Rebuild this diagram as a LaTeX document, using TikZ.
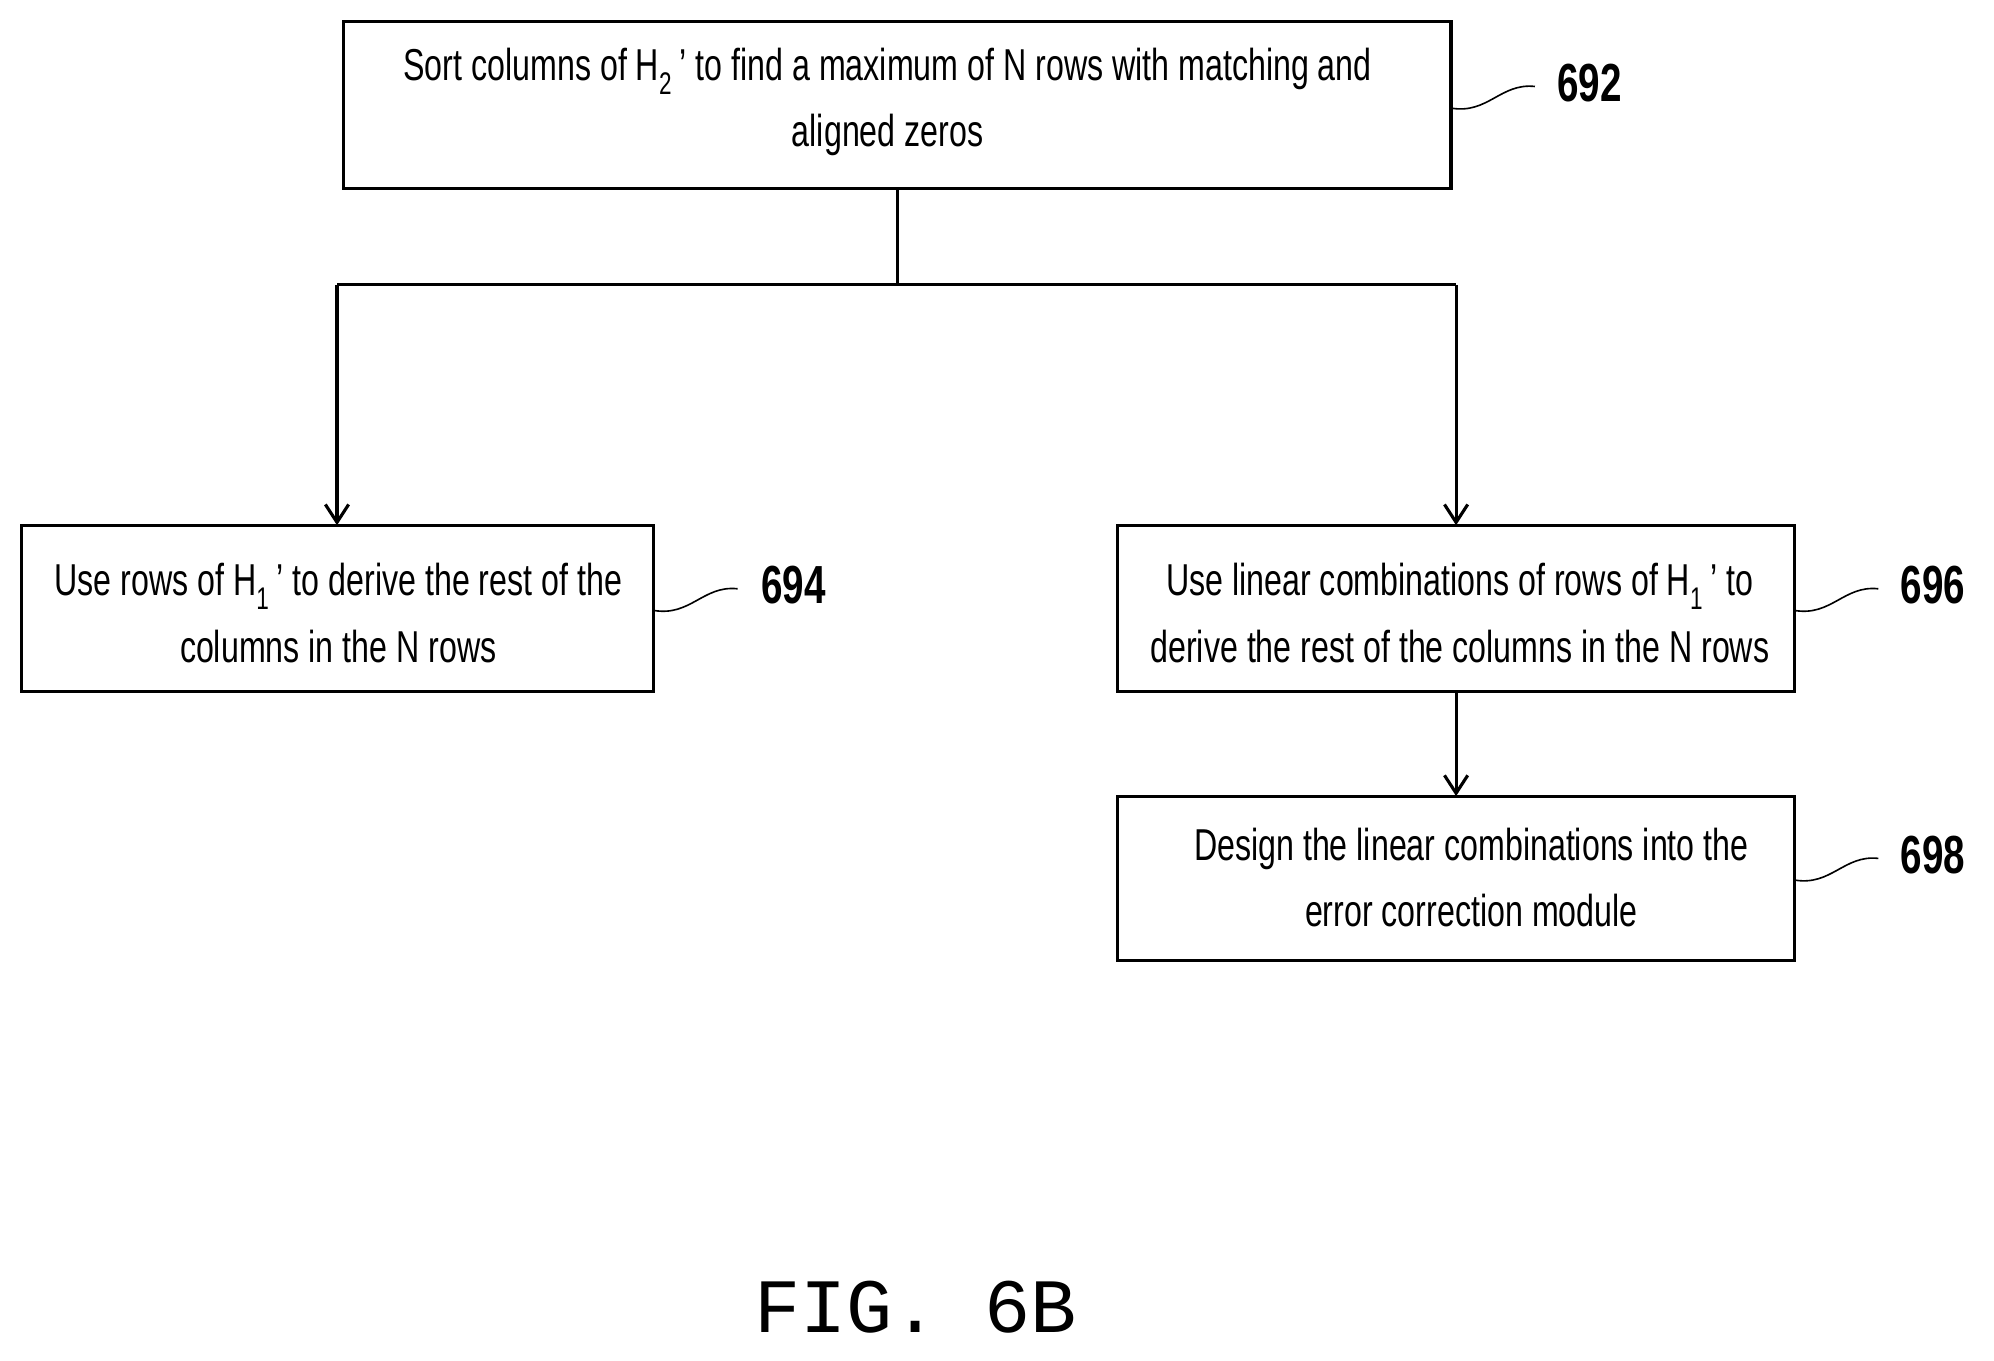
\documentclass[tikz,border=0pt]{standalone}
\usetikzlibrary{arrows.meta}
\usepackage{fontspec}
\setmainfont{Liberation Sans}[FakeStretch=0.72]
\newfontfamily\figfont{Liberation Mono}
\begin{document}
\begin{tikzpicture}[x=0.05cm,y=-0.05cm,
 box/.style={draw,line width=3.5pt,inner sep=0pt},
 txt/.style={align=center,font=\fontsize{50}{74}\selectfont},
 lab/.style={font=\bfseries\fontsize{60}{70}\selectfont},
 arr/.style={line width=3.5pt,-{Straight Barb[length=20pt,width=26pt]}},
 ln/.style={line width=3.5pt}]
\useasboundingbox (0,0) rectangle (1568,1070);
\draw[box] (270,17) rectangle (1141,148) coordinate (b1);
\node[txt] (t1) at (698,80) {Sort columns of H\textsubscript{2}\,' to find a maximum of N rows with matching and\\aligned zeros};
\draw[box] (17,413) rectangle (514,544);
\node[txt] (t2) at (266,482) {Use rows of H\textsubscript{1}\,' to derive the rest of the\\columns in the N rows};
\draw[box] (879,413) rectangle (1411,544);
\node[txt] (t3) at (1148,482) {Use linear combinations of rows of H\textsubscript{1}\,' to\\derive the rest of the columns in the N rows};
\draw[box] (879,626) rectangle (1411,755);
\node[txt] (t4) at (1157,690) {Design the linear combinations into the\\error correction module};
\coordinate (j) at (706,224);
\draw[ln] (706,148) -- (j);
\draw[ln] (265,224) -- (1145,224);
\draw[arr] (265,224) -- (265,413);
\draw[arr] (1145,224) -- (1145,413);
\draw[arr] (1145,544) -- (1145,626);
\node[lab] (l1) at (1250,65) {692};
\node[lab] (l2) at (624,460) {694};
\node[lab] (l3) at (1520,460) {696};
\node[lab] (l4) at (1520,672) {698};
\draw[line width=1.8pt] (1141,85) .. controls (1170,90) and (1180,65) .. (1207,68);
\draw[line width=1.8pt] (514,480) .. controls (543,485) and (553,460) .. (580,463);
\draw[line width=1.8pt] (1411,480) .. controls (1440,485) and (1450,460) .. (1477,463);
\draw[line width=1.8pt] (1411,692) .. controls (1440,697) and (1450,672) .. (1477,675);
\node[font=\figfont\fontsize{86}{90}\selectfont] (fig) at (720,1028) {FIG. 6B};
\end{tikzpicture}
\end{document}
